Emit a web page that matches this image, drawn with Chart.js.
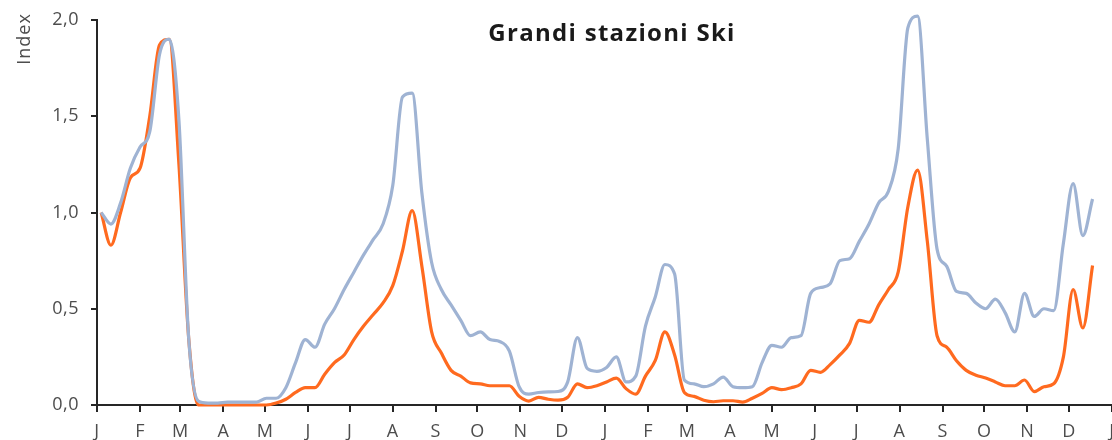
<!DOCTYPE html>
<html>
<head>
<meta charset="utf-8">
<script src="https://cdn.jsdelivr.net/npm/chart.js@4.4.1/dist/chart.umd.min.js"></script>
<style>
  html, body { margin: 0; padding: 0; background: #fff; }
</style>
</head>
<body>
<canvas id="chart" width="1112" height="440"></canvas>
<script>
// chart texts
const chartTitle = "Grandi stazioni Ski";
const axisTitle = "Index";

// x axis: months from Jan 2020 to Jan 2022
const monthLabels = ["J","F","M","A","M","J","J","A","S","O","N","D","J","F","M","A","M","J","J","A","S","O","N","D","J"];
const yTicks = [0, 0.5, 1, 1.5, 2];

// weekly series, first week ending 4 Jan 2020
const firstWeek = "2020-01-04";

const blueValues = [
  1.00, 0.94, 1.05, 1.23, 1.34, 1.42, 1.82, 1.90, 1.48, 0.35,
  0.02, 0.01, 0.01, 0.015, 0.015, 0.015, 0.015, 0.035, 0.035, 0.09,
  0.22, 0.34, 0.30, 0.42, 0.50, 0.60, 0.69, 0.78, 0.86, 0.94,
  1.14, 1.60, 1.62, 1.10, 0.74, 0.60, 0.52, 0.44, 0.36, 0.38,
  0.34, 0.33, 0.28, 0.095, 0.057, 0.065, 0.068, 0.07, 0.12, 0.35,
  0.19, 0.175, 0.195, 0.25, 0.12, 0.15, 0.41, 0.56, 0.73, 0.68,
  0.13, 0.11, 0.095, 0.11, 0.145, 0.095, 0.09, 0.095, 0.22, 0.31,
  0.30, 0.35, 0.36, 0.58, 0.61, 0.63, 0.75, 0.76, 0.85, 0.94,
  1.05, 1.11, 1.33, 1.96, 2.02, 1.38, 0.81, 0.72, 0.59, 0.58,
  0.53, 0.50, 0.55, 0.48, 0.38, 0.58, 0.46, 0.50, 0.49, 0.84,
  1.15, 0.88, 1.07
];

const orangeValues = [
  1.00, 0.83, 1.00, 1.18, 1.23, 1.50, 1.87, 1.90, 1.25, 0.35,
  0.00, 0.00, 0.00, 0.00, 0.00, 0.00, 0.00, 0.00, 0.01, 0.03,
  0.065, 0.09, 0.09, 0.16, 0.22, 0.26, 0.34, 0.41, 0.47, 0.53,
  0.62, 0.80, 1.01, 0.72, 0.38, 0.27, 0.18, 0.15, 0.115, 0.11,
  0.10, 0.10, 0.10, 0.045, 0.02, 0.04, 0.03, 0.025, 0.04, 0.11,
  0.09, 0.10, 0.12, 0.14, 0.085, 0.056, 0.15, 0.23, 0.38, 0.26,
  0.065, 0.045, 0.025, 0.017, 0.022, 0.022, 0.015, 0.035, 0.06, 0.09,
  0.08, 0.09, 0.11, 0.18, 0.17, 0.21, 0.26, 0.32, 0.44, 0.43,
  0.52, 0.60, 0.69, 1.03, 1.22, 0.85, 0.36, 0.30, 0.23, 0.18,
  0.155, 0.14, 0.12, 0.10, 0.10, 0.13, 0.07, 0.095, 0.11, 0.25,
  0.60, 0.40, 0.725
];

const DAY = 86400000;
const origin = Date.UTC(2020, 0, 1);
const monthStarts = monthLabels.map((_, m) => (Date.UTC(2020, m, 1) - origin) / DAY);
const weekStart = (Date.parse(firstWeek) - origin) / DAY;
const toPoints = vals => vals.map((v, i) => ({ x: weekStart + i * 7, y: v }));

const font = "'Open Sans', sans-serif";
const axisColor = "#262626";
const labelColor = "#4d4d4d";

// wider letters, closer to the original's geometric font
const spacingPlugin = {
  id: "spacing",
  beforeUpdate(chart) { chart.ctx.letterSpacing = "0.5px"; },
  beforeDraw(chart) { chart.ctx.letterSpacing = "0.5px"; }
};

const textPlugin = {
  id: "texts",
  afterDraw(chart) {
    const ctx = chart.ctx;
    ctx.save();
    ctx.textAlign = "center";
    ctx.textBaseline = "middle";
    ctx.fillStyle = "#1a1a1a";
    ctx.letterSpacing = "1.3px";
    ctx.font = "bold 24px " + font;
    ctx.fillText(chartTitle, 612, 34);
    ctx.translate(25, 39);
    ctx.rotate(-Math.PI / 2);
    ctx.fillStyle = labelColor;
    ctx.letterSpacing = "1px";
    ctx.font = "18px " + font;
    ctx.fillText(axisTitle, 0, 0);
    ctx.restore();
  }
};

new Chart(document.getElementById("chart"), {
  type: "line",
  data: {
    datasets: [
      { label: "blu", data: toPoints(blueValues), borderColor: "#9fb3d3", borderWidth: 3.2 },
      { label: "arancio", data: toPoints(orangeValues), borderColor: "#ff6a1f", borderWidth: 3.2 }
    ]
  },
  options: {
    responsive: false,
    animation: false,
    devicePixelRatio: 1,
    layout: { padding: { top: 20, left: 0, right: 0, bottom: 0 } },
    elements: {
      point: { radius: 0 },
      line: { cubicInterpolationMode: "monotone", fill: false }
    },
    datasets: { line: { clip: false } },
    plugins: { legend: { display: false }, tooltip: { enabled: false } },
    scales: {
      x: {
        type: "linear",
        min: 0,
        max: monthStarts[monthStarts.length - 1],
        afterBuildTicks: s => { s.ticks = monthStarts.map(v => ({ value: v })); },
        ticks: {
          autoSkip: false, maxRotation: 0, padding: 9,
          color: labelColor, font: { family: font, size: 18 },
          callback: (v, i) => monthLabels[i]
        },
        grid: { drawOnChartArea: false, tickLength: 7, color: axisColor, lineWidth: 2 },
        border: { color: axisColor, width: 2 },
        afterFit: s => { s.height = 35; s.paddingLeft = 0; s.paddingRight = 0; }
      },
      y: {
        min: 0,
        max: 2,
        afterBuildTicks: s => { s.ticks = yTicks.map(v => ({ value: v })); },
        ticks: {
          padding: 12, color: labelColor, font: { family: font, size: 18 },
          callback: v => v.toFixed(1).replace(".", ",")
        },
        grid: { drawOnChartArea: false, tickLength: 6, color: axisColor, lineWidth: 2 },
        border: { color: axisColor, width: 2 },
        afterFit: s => { s.width = 97; s.paddingTop = 0; s.paddingBottom = 0; }
      }
    }
  },
  plugins: [spacingPlugin, textPlugin]
});
</script>
</body>
</html>
